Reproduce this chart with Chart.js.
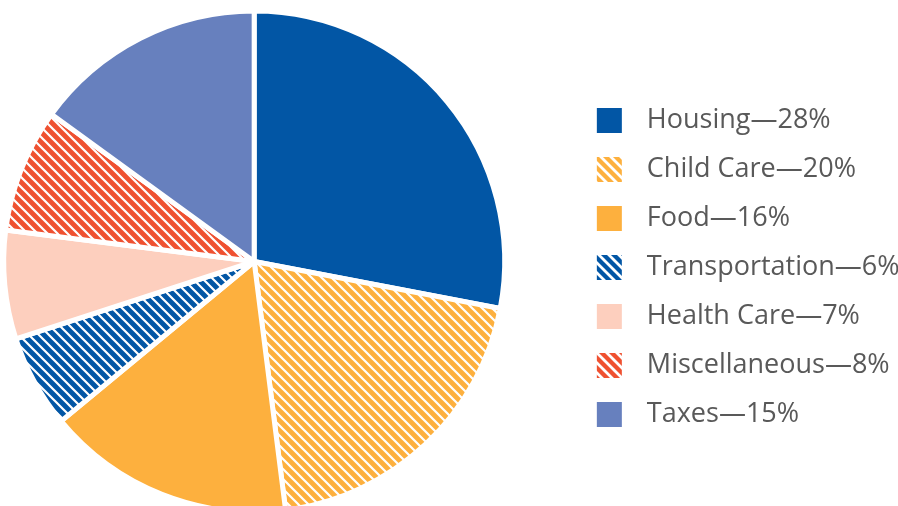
<!DOCTYPE html>
<html>
<head>
<meta charset="utf-8">
<script src="https://cdn.jsdelivr.net/npm/chart.js@4.4.1/dist/chart.umd.min.js"></script>
<style>
  html, body { margin: 0; padding: 0; background: #fff; overflow: hidden; width: 898px; height: 506px; }
  /* canvas is wider than the page and shifted left so the pie sits where it should */
  #budgetChart { position: absolute; left: -76px; top: 0; }
</style>
</head>
<body>
<canvas id="budgetChart" width="990" height="506"></canvas>
<script>
// Budget categories and their share of the total (percent)
var categories = ["Housing", "Child Care", "Food", "Transportation", "Health Care", "Miscellaneous", "Taxes"];
var shares = [28, 20, 16, 6, 7, 8, 15];

// Look of each slice
var sliceColors = ["#0256a5", "#fdb03e", "#fdb03e", "#0256a5", "#fdcfbe", "#ef5131", "#6780be"];
var hatched = [false, true, false, true, false, true, false];

// Diagonal white stripes on a coloured tile
function hatch(color, lineWidth) {
    var s = 10;
    var tile = document.createElement("canvas");
    tile.width = s;
    tile.height = s;
    var g = tile.getContext("2d");
    g.fillStyle = color;
    g.fillRect(0, 0, s, s);
    g.strokeStyle = "#ffffff";
    g.lineWidth = lineWidth;
    g.beginPath();
    [-s, 0, s].forEach(function (k) {
        g.moveTo(k - s, -s);
        g.lineTo(k + 2 * s, 2 * s);
    });
    g.stroke();
    return g.createPattern(tile, "repeat");
}

var sliceFills = sliceColors.map(function (c, i) {
    return hatched[i] ? hatch(c, 2.2) : c;
});
var legendFills = sliceColors.map(function (c, i) {
    return hatched[i] ? hatch(c, 2.8) : c;
});

var ctx = document.getElementById("budgetChart").getContext("2d");

var chart = new Chart(ctx, {
    type: "pie",
    data: {
        labels: categories,
        datasets: [{
            data: shares,
            backgroundColor: sliceFills,
            borderColor: "#ffffff",
            borderWidth: 5,
            radius: 250.5
        }]
    },
    options: {
        responsive: false,
        animation: false,
        devicePixelRatio: 1,
        events: [],
        layout: {
            padding: { left: 0, right: 4.4, top: 17, bottom: 0 }
        },
        plugins: {
            tooltip: { enabled: false },
            legend: {
                position: "right",
                align: "start",
                title: {
                    display: true,
                    text: " ",
                    font: { size: 10 },
                    padding: { top: 66.5, bottom: 0 }
                },
                labels: {
                    boxWidth: 48,
                    boxHeight: 48,
                    padding: 1,
                    color: "#595959",
                    font: { family: "'Open Sans', sans-serif", size: 27 },
                    // wide white outline shrinks the visible swatch to 25px
                    generateLabels: function (chart) {
                        return categories.map(function (name, i) {
                            return {
                                text: name + "\u2014" + shares[i] + "%",
                                fillStyle: legendFills[i],
                                strokeStyle: "#ffffff",
                                lineWidth: 23,
                                fontColor: "#595959",
                                hidden: false,
                                index: i
                            };
                        });
                    }
                }
            }
        }
    }
});
</script>
</body>
</html>
